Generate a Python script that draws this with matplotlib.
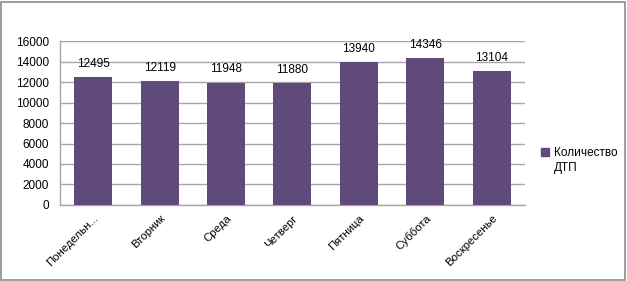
import matplotlib.pyplot as plt
from matplotlib.patches import Rectangle, Patch

# Данные
dias = ['Понедельн...', 'Вторник', 'Среда', 'Четверг', 'Пятница', 'Суббота', 'Воскресенье']
dtp = [12495, 12119, 11948, 11880, 13940, 14346, 13104]
yticks = [0, 2000, 4000, 6000, 8000, 10000, 12000, 14000, 16000]
serie = ['Количество', 'ДТП']

plt.rcParams['font.family'] = ['Liberation Sans', 'DejaVu Sans']
cor = '#604a7b'
cinza = '#a6a6a6'

fig = plt.figure(figsize=(6.27, 2.81), dpi=100)
ax = fig.add_axes([0.0957, 0.2705, 0.7413, 0.5835])

x = range(len(dias))
barras = ax.bar(x, dtp, width=0.571, color=cor, zorder=3)

for xi, v in zip(x, dtp):
    ax.annotate(str(v), (xi, v), xytext=(0, 9.5), textcoords='offset points',
                ha='center', va='center', fontsize=8.5)

ax.set_xlim(-0.5, len(dias) - 0.5)
ax.set_ylim(0, 16000)
ax.set_yticks(yticks)
ax.set_yticklabels([str(t) for t in yticks], fontsize=8.5)
ax.set_xticks(list(x))
ax.set_xticklabels(dias, rotation=45, ha='right', rotation_mode='anchor', fontsize=8.2)
ax.tick_params(axis='y', length=0, pad=8)
ax.tick_params(axis='x', length=0, pad=6)

ax.grid(axis='y', color=cinza, linewidth=1, zorder=0)
for s in ['top', 'right']:
    ax.spines[s].set_visible(False)
for s in ['left', 'bottom']:
    ax.spines[s].set_color(cinza)
    ax.spines[s].set_linewidth(1)

# legenda: primeira linha com o marcador, segunda linha abaixo
leg = fig.legend(handles=[Patch(color=cor, label=serie[0])],
                 loc='center left', bbox_to_anchor=(0.855, 0.455), frameon=False,
                 fontsize=8.5, handlelength=0.7, handleheight=0.7, handletextpad=0.4,
                 borderaxespad=0)
fig.canvas.draw()
bb = leg.get_texts()[0].get_window_extent().transformed(fig.transFigure.inverted())
fig.text(bb.x0, bb.y0 - 0.053, serie[1], fontsize=8.5, ha='left', va='bottom')

fig.patches.append(Rectangle((0.002, 0.004), 0.995, 0.99, transform=fig.transFigure,
                             fill=False, edgecolor='#8c8c8c', linewidth=1.2))

fig.savefig('out.png', dpi=100)
